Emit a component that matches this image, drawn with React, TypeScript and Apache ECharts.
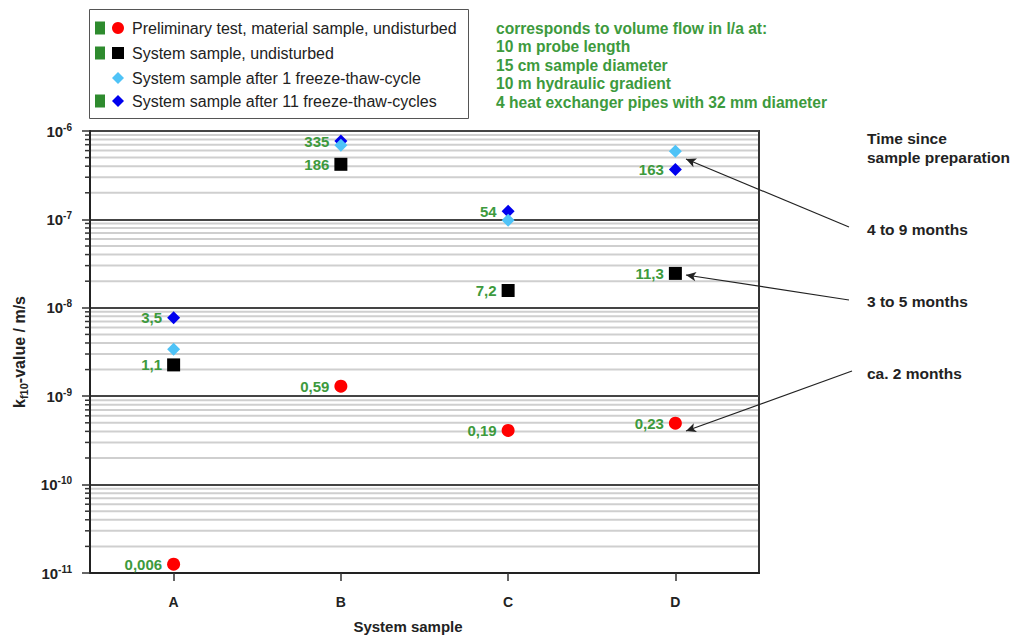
import React, { useEffect, useRef } from "react";
import * as echarts from "echarts";

const categories = ["A", "B", "C", "D"];
const prelimValues = [1.26e-11, 1.3e-9, 4.1e-10, 4.95e-10];
const prelimLabels = ["0,006", "0,59", "0,19", "0,23"];
const undisturbedValues = [2.26e-9, 4.2e-7, 1.57e-8, 2.45e-8];
const undisturbedLabels = ["1,1", "186", "7,2", "11,3"];
const ft1Values = [3.4e-9, 6.9e-7, 9.8e-8, 5.9e-7];
const ft11Values = [7.7e-9, 7.7e-7, 1.24e-7, 3.66e-7];
const ft11Labels = ["3,5", "335", "54", "163"];
const decadeExponents = [-11, -10, -9, -8, -7];
const minorMultipliers = [2, 3, 4, 5, 6, 7, 8, 9];

const legendItems = [
  { name: "Preliminary test, material sample, undisturbed", marker: "circle", color: "#ff0000", green: true },
  { name: "System sample, undisturbed", marker: "square", color: "#000000", green: true },
  { name: "System sample after 1 freeze-thaw-cycle", marker: "diamond", color: "#4fc3f7", green: false },
  { name: "System sample after 11 freeze-thaw-cycles", marker: "diamond", color: "#0000ee", green: true },
];

const noteLines = [
  "corresponds to volume flow in l/a at:",
  "10 m probe length",
  "15 cm sample diameter",
  "10 m hydraulic gradient",
  "4 heat exchanger pipes with 32 mm diameter",
];

const GREEN_LABEL = "#3d9a3d";
const FONT = "'Liberation Sans', Arial, sans-serif";

export default function App() {
  const ref = useRef<HTMLDivElement>(null);

  useEffect(() => {
    if (!ref.current) return;
    const chart = echarts.init(ref.current, null, { renderer: "svg" });

    const minorData: number[][] = [];
    decadeExponents.forEach((e) => {
      minorMultipliers.forEach((m) => {
        minorData.push([0, m * Math.pow(10, e)]);
      });
    });

    const labelStyle = (labels: string[]) => ({
      show: true,
      position: "left",
      distance: 5,
      color: GREEN_LABEL,
      fontWeight: "bold",
      fontSize: 15,
      fontFamily: FONT,
      formatter: (p: any) => labels[p.dataIndex],
    });

    const legendGraphics: any[] = [
      {
        type: "rect",
        shape: { x: 89.5, y: 9.5, width: 379, height: 109 },
        style: { fill: "#fff", stroke: "#555", lineWidth: 1 },
      },
    ];
    const rowY = [28, 53, 78, 101];
    legendItems.forEach((it, i) => {
      const y = rowY[i];
      if (it.green) {
        legendGraphics.push({
          type: "rect",
          shape: { x: 95, y: y - 6.5, width: 10, height: 13 },
          style: { fill: "#2e8b2e" },
        });
      }
      if (it.marker === "circle") {
        legendGraphics.push({ type: "circle", shape: { cx: 118, cy: y, r: 6 }, style: { fill: it.color } });
      } else if (it.marker === "square") {
        legendGraphics.push({ type: "rect", shape: { x: 112, y: y - 6, width: 12, height: 12 }, style: { fill: it.color } });
      } else {
        legendGraphics.push({
          type: "polygon",
          shape: { points: [[118, y - 6], [124, y], [118, y + 6], [112, y]] },
          style: { fill: it.color },
        });
      }
      legendGraphics.push({
        type: "text",
        x: 132,
        y: y,
        style: { text: it.name, fill: "#222", font: `16px ${FONT}`, verticalAlign: "middle" },
      });
    });

    const noteGraphics = noteLines.map((t, i) => ({
      type: "text",
      x: 496,
      y: 28 + i * 18.5,
      style: { text: t, fill: "#3d9a3d", font: `bold 15.6px ${FONT}`, verticalAlign: "middle" },
    }));

    const rightTexts = [
      { t: "Time since", y: 138 },
      { t: "sample preparation", y: 157 },
      { t: "4 to 9 months", y: 229 },
      { t: "3 to 5 months", y: 301 },
      { t: "ca. 2 months", y: 373 },
    ].map((r) => ({
      type: "text",
      x: 867,
      y: r.y,
      style: { text: r.t, fill: "#222", font: `bold 15.5px ${FONT}`, verticalAlign: "middle" },
    }));

    const option: any = {
      animation: false,
      backgroundColor: "#fff",
      grid: {
        left: 90,
        right: 260,
        top: 131,
        bottom: 65,
        show: true,
        borderColor: "#333",
        borderWidth: 2,
        backgroundColor: "transparent",
      },
      xAxis: {
        type: "category",
        data: categories,
        boundaryGap: true,
        axisLine: { show: true, lineStyle: { color: "#222", width: 2 } },
        axisTick: { show: true, alignWithLabel: true, length: 8, lineStyle: { color: "#333", width: 1.5 } },
        axisLabel: { color: "#222", fontWeight: "bold", fontSize: 14, fontFamily: FONT, margin: 22 },
        splitLine: { show: false },
        name: "System sample",
        nameLocation: "middle",
        nameGap: 46,
        nameTextStyle: { color: "#222", fontWeight: "bold", fontSize: 15, fontFamily: FONT, padding: [0, 33, 0, 0] },
      },
      yAxis: {
        type: "log",
        logBase: 10,
        min: 1e-11,
        max: 1e-6,
        axisLine: { show: true, lineStyle: { color: "#222", width: 2 } },
        axisTick: { show: true, length: 8, lineStyle: { color: "#333", width: 1.5 } },
        axisLabel: {
          margin: 18,
          formatter: (v: number) => `{b|10}{s|${Math.round(Math.log10(v))}}`,
          rich: {
            b: { fontSize: 15, fontWeight: "bold", color: "#222", fontFamily: FONT, lineHeight: 18 },
            s: { fontSize: 10, fontWeight: "bold", color: "#222", fontFamily: FONT, lineHeight: 10, verticalAlign: "top" },
          },
        },
        splitLine: { show: true, lineStyle: { color: "#444", width: 2 } },
        name: "{a|k}{s|f10}{a|-value / m/s}",
        nameLocation: "middle",
        nameGap: 61,
        nameTextStyle: {
          rich: {
            a: { fontSize: 16, fontWeight: "bold", color: "#222", fontFamily: FONT, lineHeight: 20 },
            s: { fontSize: 11, fontWeight: "bold", color: "#222", fontFamily: FONT, lineHeight: 12, verticalAlign: "bottom" },
          },
        },
      },
      graphic: [...legendGraphics, ...noteGraphics, ...rightTexts],
      series: [
        {
          type: "custom",
          name: "minor grid",
          silent: true,
          clip: false,
          z: 1,
          data: minorData,
          encode: { x: 0, y: 1 },
          renderItem: (params: any, api: any) => {
            const y = api.coord([0, api.value(1)])[1];
            const cs = params.coordSys;
            return {
              type: "group",
              children: [
                {
                  type: "line",
                  shape: { x1: cs.x + 1, y1: y, x2: cs.x + cs.width - 1, y2: y },
                  style: { stroke: "#cfcfcf", lineWidth: 2 },
                },
                {
                  type: "line",
                  shape: { x1: cs.x - 5, y1: y, x2: cs.x, y2: y },
                  style: { stroke: "#333", lineWidth: 1.5 },
                },
              ],
            };
          },
        },
        {
          type: "scatter",
          name: "Preliminary test, material sample, undisturbed",
          data: prelimValues,
          symbol: "circle",
          symbolSize: 13,
          itemStyle: { color: "#ff0000", opacity: 1 },
          label: labelStyle(prelimLabels),
          z: 5,
          markLine: {
            silent: true,
            symbol: ["none", "arrow"],
            symbolSize: [7, 10],
            label: { show: false },
            lineStyle: { color: "#222", width: 1.2, type: "solid" },
            data: [
              [{ x: 849, y: 227 }, { x: 686, y: 159 }],
              [{ x: 849, y: 300 }, { x: 686, y: 275 }],
              [{ x: 852, y: 371 }, { x: 686, y: 431 }],
            ],
          },
        },
        {
          type: "scatter",
          name: "System sample, undisturbed",
          data: undisturbedValues,
          symbol: "rect",
          symbolSize: 13,
          itemStyle: { color: "#000", opacity: 1 },
          label: labelStyle(undisturbedLabels),
          z: 5,
        },
        {
          type: "scatter",
          name: "System sample after 11 freeze-thaw-cycles",
          data: ft11Values,
          symbol: "diamond",
          symbolSize: 13,
          itemStyle: { color: "#0000ee", opacity: 1 },
          label: labelStyle(ft11Labels),
          z: 5,
        },
        {
          type: "scatter",
          name: "System sample after 1 freeze-thaw-cycle",
          data: ft1Values,
          symbol: "diamond",
          symbolSize: 13,
          itemStyle: { color: "#4fc3f7", opacity: 1 },
          z: 6,
        },
      ],
    };

    chart.setOption(option);
    return () => chart.dispose();
  }, []);

  return (
    <div
      ref={ref}
      style={{ position: "fixed", left: 0, top: 0, width: 1019, height: 639, background: "#fff" }}
    />
  );
}
